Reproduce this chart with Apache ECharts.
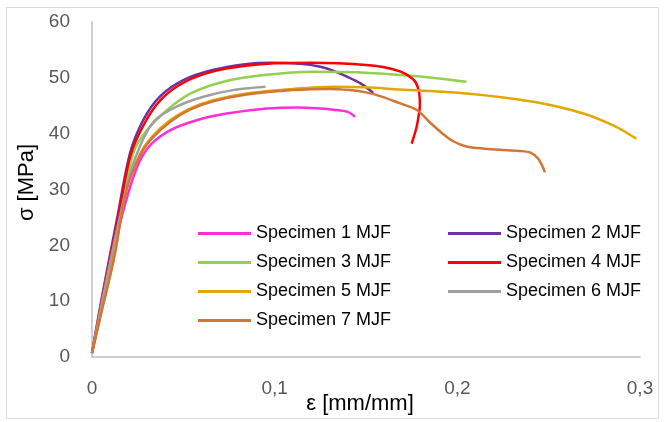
<!DOCTYPE html>
<html><head><meta charset="utf-8">
<script src="https://cdn.jsdelivr.net/npm/echarts@6/dist/echarts.min.js"></script>
<style>html,body{margin:0;padding:0;background:#fff}#c{width:665px;height:422px}</style>
</head><body><div id="c"></div>
<script>
const names = ['Specimen 1 MJF','Specimen 2 MJF','Specimen 3 MJF','Specimen 4 MJF','Specimen 5 MJF','Specimen 6 MJF','Specimen 7 MJF'];
const colors = ['#FF2ED6','#7030A0','#92D050','#FF0000','#E3A800','#A0A0A0','#D27636'];
const xTicks = [0, 0.1, 0.2, 0.3];
const yTicks = [0, 10, 20, 30, 40, 50, 60];

const s1 = [[0,0.7],[0.005,8.5],[0.01,16.5],[0.015,23.5],[0.0208,30.4],[0.0263,35.2],[0.0327,38.2],[0.0427,40.6],[0.0573,42.4],[0.0737,43.6],[0.0956,44.5],[0.112,44.7],[0.125,44.5],[0.132,44.3],[0.140,43.9],[0.144,43.0]];
const s2 = [[0,0.7],[0.005,10],[0.0135,24.4],[0.0208,36.5],[0.028,42.4],[0.037,46.6],[0.050,49.6],[0.066,51.4],[0.085,52.5],[0.098,52.7],[0.114,52.5],[0.125,52.0],[0.132,51.3],[0.139,50.3],[0.147,49.0],[0.154,47.3]];
const s3 = [[0,0.7],[0.005,9.5],[0.0135,23],[0.0226,36.5],[0.030,40.6],[0.041,44.2],[0.054,47.2],[0.072,49.3],[0.094,50.5],[0.121,51.1],[0.145,51.0],[0.169,50.5],[0.19,49.9],[0.205,49.3]];
const s4 = [[0,0.7],[0.005,9.5],[0.0135,23.5],[0.021,36],[0.029,42],[0.038,46.2],[0.051,49.3],[0.067,51.2],[0.085,52.2],[0.100,52.6],[0.120,52.7],[0.135,52.6],[0.150,52.3],[0.160,51.9],[0.169,51.1],[0.174,50.2],[0.177,49.3],[0.179,47.5],[0.1795,45],[0.179,43.6],[0.1777,41.2],[0.175,38.2]];
const s5 = [[0,0.7],[0.005,8],[0.012,18],[0.019,30.4],[0.0263,36.4],[0.0327,39.4],[0.0427,42.4],[0.0536,44.5],[0.0664,46.0],[0.0847,47.2],[0.110,48.0],[0.132,48.4],[0.150,48.3],[0.1686,47.9],[0.205,47.2],[0.2416,45.7],[0.269,43.6],[0.287,41.2],[0.298,39.1]];
const s6 = [[0,0.7],[0.005,9],[0.0135,22.5],[0.021,33],[0.028,39.0],[0.0345,42.4],[0.046,44.8],[0.061,46.6],[0.077,47.8],[0.095,48.4]];
const s7 = [[0,0.7],[0.005,7.8],[0.012,17.5],[0.019,30],[0.0263,36.1],[0.0327,39.1],[0.0427,42.1],[0.0536,44.3],[0.0664,45.8],[0.0847,47.0],[0.110,47.8],[0.130,48.0],[0.141,47.8],[0.150,47.4],[0.159,46.6],[0.168,45.5],[0.178,44.2],[0.185,42.0],[0.192,40.0],[0.198,38.6],[0.205,37.7],[0.215,37.3],[0.223,37.1],[0.234,36.9],[0.240,36.6],[0.2443,35.5],[0.248,33.1]];
const seriesData = [s1,s2,s3,s4,s5,s6,s7];

const font = 'Liberation Sans';
const chart = echarts.init(document.getElementById('c'), null, {renderer:'canvas'});
const legendCommon = {
  orient:'vertical', itemWidth:53, itemHeight:3, icon:'rect', itemGap:10, padding:0,
  textStyle:{fontFamily:font, fontSize:18, color:'#000', lineHeight:19}
};
chart.setOption({
  animation:false,
  backgroundColor:'#fff',
  graphic:[{type:'rect', shape:{x:6.5,y:7.5,width:652,height:411}, style:{fill:'none', stroke:'#D9D9D9', lineWidth:1}, silent:true}],
  grid:{left:92, right:25, top:22, bottom:65, outerBoundsMode:'none', containLabel:false},
  legend:[
    Object.assign({left:198, top:224, data:[names[0],names[2],names[4],names[6]]}, legendCommon),
    Object.assign({left:448, top:224, data:[names[1],names[3],names[5]]}, legendCommon)
  ],
  xAxis:{type:'value', min:xTicks[0], max:xTicks[xTicks.length-1], interval:0.1,
    name:'ε [mm/mm]', nameLocation:'middle', nameGap:36, nameMoveOverlap:false,
    nameTextStyle:{fontFamily:font, fontSize:22, color:'#000', padding:[0,12,0,0]},
    axisLine:{lineStyle:{color:'#BFBFBF', width:1.5}}, axisTick:{show:false}, splitLine:{show:false},
    axisLabel:{fontFamily:font, fontSize:19, color:'#595959', margin:22,
      formatter:v=>v===0?'0':String(Math.round(v*10)/10).replace('.',',')}},
  yAxis:{type:'value', min:yTicks[0], max:yTicks[yTicks.length-1], interval:10,
    name:'σ [MPa]', nameLocation:'middle', nameGap:54, nameMoveOverlap:false,
    nameTextStyle:{fontFamily:font, fontSize:22, color:'#000', padding:[0,0,0,14]},
    axisLine:{show:true, lineStyle:{color:'#BFBFBF', width:1.5}}, axisTick:{show:false}, splitLine:{show:false},
    axisLabel:{fontFamily:font, fontSize:19, color:'#595959', margin:22}},
  series: seriesData.map((d,i)=>({
    name:names[i], type:'line', data:d, showSymbol:false, smooth:0.3,
    lineStyle:{width:2.5, color:colors[i]}, itemStyle:{color:colors[i]}, z: 2+i
  }))
});
</script></body></html>
